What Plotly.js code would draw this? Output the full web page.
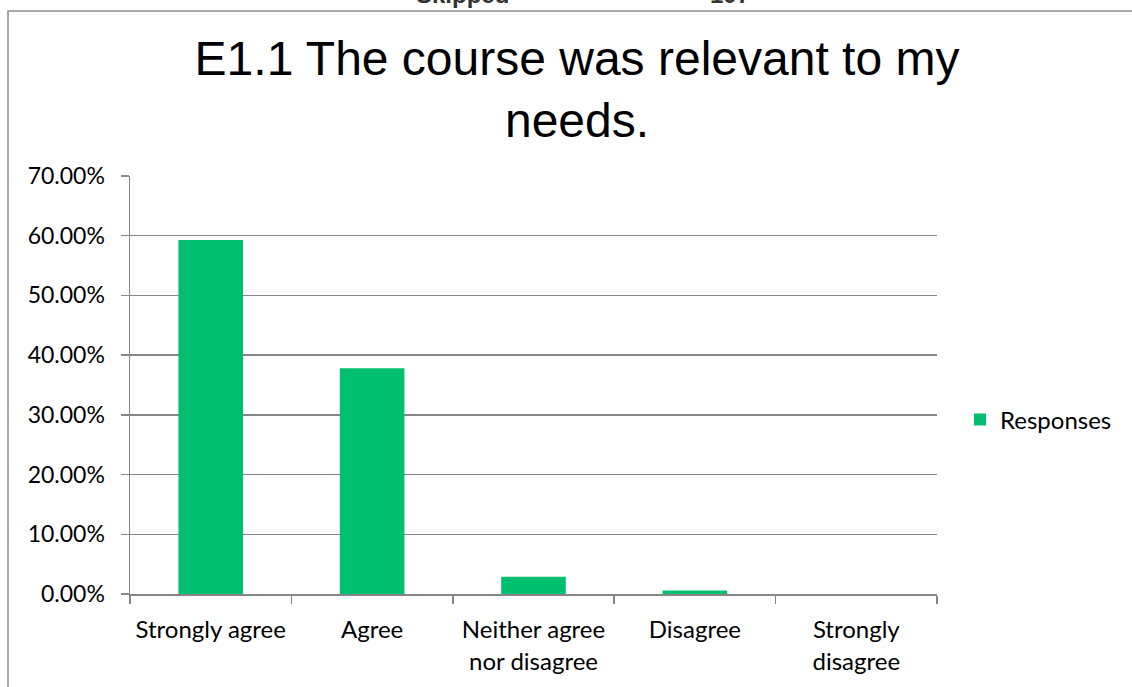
<!DOCTYPE html>
<html>
<head>
<meta charset="utf-8">
<script src="https://cdn.plot.ly/plotly-3.0.1.min.js"></script>
<style>
  html, body { margin: 0; padding: 0; background: #ffffff; }
  #chart { width: 1132px; height: 687px; }
</style>
</head>
<body>
<div id="chart"></div>
<script>
const categories = ["Strongly agree", "Agree", "Neither agree<br>nor disagree", "Disagree", "Strongly<br>disagree"];
const responses = [0.593, 0.378, 0.029, 0.006, 0.0];
const seriesName = "Responses";
const titleText = "E1.1 The course was relevant to my<br>needs.";
const headerLabels = ["Skipped", "107"];

const W = 1132, H = 687;
const m = { l: 130, r: 195, t: 176, b: 93 };
const pw = W - m.l - m.r, ph = H - m.t - m.b;
const px = v => (v - m.l) / pw;
const py = v => (H - m.b - v) / ph;

const fam = "Lato, 'Open Sans', sans-serif";
const xTickFont = { family: fam, size: 24, color: "#000000" };
const yTickFont = { family: fam, size: 23, color: "#000000" };

const trace = {
  type: "bar",
  x: categories,
  y: responses,
  name: seriesName,
  marker: { color: "#00BF6F", line: { width: 0 } },
  showlegend: true
};

const layout = {
  width: W, height: H,
  margin: m,
  paper_bgcolor: "#ffffff",
  plot_bgcolor: "#ffffff",
  bargap: 0.6,
  title: {
    text: titleText,
    font: { family: "'Liberation Sans', Arial, sans-serif", size: 48, color: "#000000" },
    x: 577 / W, xref: "container", xanchor: "center",
    y: 1 - 74.5 / H, yref: "container", yanchor: "middle"
  },
  xaxis: {
    type: "category",
    tickson: "boundaries",
    ticks: "outside", ticklen: 8, tickwidth: 1.5, tickcolor: "#868686",
    ticklabelstandoff: 14,
    showline: true, linecolor: "#868686", linewidth: 1.5,
    showgrid: false,
    tickfont: xTickFont,
    fixedrange: true
  },
  yaxis: {
    range: [0, 0.7],
    dtick: 0.1,
    tickformat: ".2%",
    ticks: "outside", ticklen: 8, tickwidth: 1.5, tickcolor: "#868686",
    ticklabelstandoff: 11,
    showline: true, linecolor: "#868686", linewidth: 1.5,
    showgrid: true, gridcolor: "#868686", gridwidth: 1.5,
    zeroline: false,
    tickfont: yTickFont,
    fixedrange: true
  },
  legend: {
    x: px(960), xanchor: "left",
    y: py(420), yanchor: "middle",
    font: xTickFont,
    bgcolor: "rgba(0,0,0,0)"
  },
  shapes: [
    {
      type: "path", xref: "paper", yref: "paper",
      path: `M ${px(8)} ${py(H + 20)} L ${px(8)} ${py(11)} L ${px(W + 20)} ${py(11)}`,
      line: { color: "#8c8c8c", width: 1.5 }
    }
  ],
  annotations: [
    { text: "<b>" + headerLabels[0] + "</b>", x: px(462), y: py(-5), xref: "paper", yref: "paper",
      showarrow: false, xanchor: "center", yanchor: "middle",
      font: { family: "'Liberation Sans', Arial, sans-serif", size: 24, color: "#333333" } },
    { text: "<b>" + headerLabels[1] + "</b>", x: px(730), y: py(-5), xref: "paper", yref: "paper",
      showarrow: false, xanchor: "center", yanchor: "middle",
      font: { family: "'Liberation Sans', Arial, sans-serif", size: 24, color: "#333333" } }
  ]
};

Plotly.newPlot("chart", [trace], layout, { displayModeBar: false, staticPlot: true });
</script>
</body>
</html>
